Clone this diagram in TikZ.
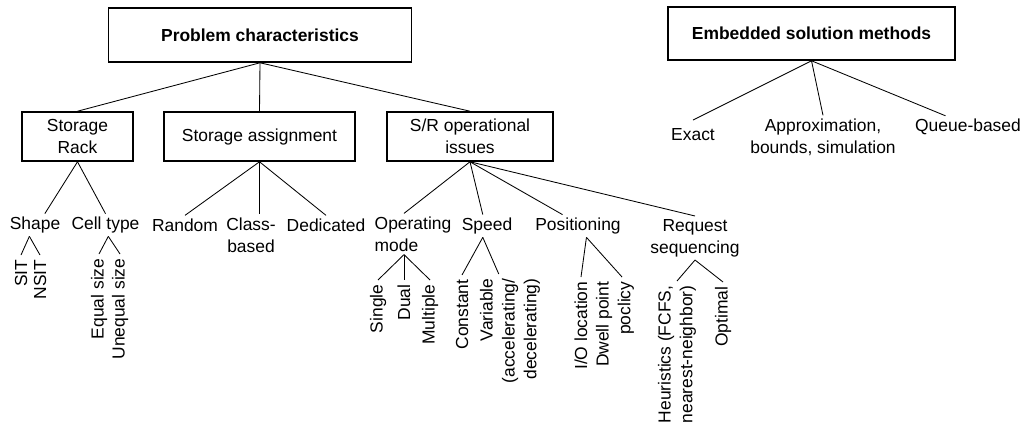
\documentclass[tikz,border=0pt]{standalone}
\usepackage{fontspec}
\setmainfont{Liberation Sans}
\begin{document}
\begin{tikzpicture}[x=0.025cm,y=-0.025cm,line width=0.6pt,
  every node/.style={font=\fontsize{12.4}{15.6}\selectfont},
  box/.style={draw,line width=1.1pt,align=center,inner sep=0pt},
  lbl/.style={align=center,inner sep=2pt},
  leaf/.style={rotate=90,anchor=east,align=right,inner sep=3pt}]
\useasboundingbox (0,0) rectangle (1029,433);
% top boxes
\node [box,minimum width=7.575cm,minimum height=1.35cm] (prob) at (260,35) {\bfseries Problem characteristics};
\node [box,minimum width=7.175cm,minimum height=1.325cm] (emb) at (811.5,33.5) {\bfseries Embedded solution methods};
\node [box,minimum width=2.775cm,minimum height=1.225cm] (rack) at (77.5,136.5) {Storage\\Rack};
\node [box,minimum width=4.775cm,minimum height=1.225cm] (assign) at (259.5,136.5) {Storage assignment};
\node [box,minimum width=4.15cm,minimum height=1.225cm] (sr) at (470,136.5) {S/R operational\\issues};
% second level
\node [lbl] (shape) at (35,225) {Shape};
\node [lbl] (cell) at (105.5,225) {Cell type};
\node [lbl] (random) at (185,225) {Random};
\node [lbl] (classb) at (251,235) {Class-\\based};
\node [lbl] (dedic) at (326,225) {Dedicated};
\node [lbl,align=left] (opmode) at (413,234) {Operating\\mode};
\node [lbl] (speed) at (487,226) {Speed};
\node [lbl] (posit) at (578,226) {Positioning};
\node [lbl] (reqseq) at (695,238) {Request\\sequencing};
\node [lbl] (exact) at (693,135) {Exact};
\node [lbl] (approx) at (823,137) {Approximation,\\bounds, simulation};
\node [lbl] (queue) at (968,127) {Queue-based};
% leaves
\node [leaf] (sit) at (21,255) {SIT};
\node [leaf] (nsit) at (40,255) {NSIT};
\node [leaf] (equal) at (99,254) {Equal size};
\node [leaf] (unequal) at (120,254) {Unequal size};
\node [leaf] (single) at (378,280) {Single};
\node [leaf] (dual) at (404,280) {Dual};
\node [leaf] (multi) at (430,280) {Multiple};
\node [leaf] (const) at (462,275) {Constant};
\node [leaf] (var) at (510,274) {Variable\\(accelerating/\\decelerating)};
\node [leaf] (ioloc) at (581,277) {I/O location};
\node [leaf] (dwell) at (615,277) {Dwell point\\poclicy};
\node [leaf] (heur) at (677,281) {Heuristics (FCFS,\\nearest-neighbor)};
\node [leaf] (optimal) at (723,282) {Optimal};
% connectors
\draw (prob.south) -- (rack.north);
\draw (prob.south) -- (assign.north);
\draw (prob.south) -- (sr.north);
\draw (emb.south) -- ([yshift=4pt]exact.north);
\draw (emb.south) -- (approx.north);
\draw (emb.south) -- ([xshift=-16pt]queue.north);
\draw (rack.south) -- ([xshift=7pt]shape.north);
\draw (rack.south) -- (cell.north);
\draw (assign.south) -- (random.north);
\draw (assign.south) -- (assign.south |- classb.north);
\draw (assign.south) -- (dedic.north);
\draw (sr.south) -- (opmode.north -| dual);
\draw (sr.south) -- ([xshift=-3pt]speed.north);
\draw (sr.south) -- ([xshift=-11pt]posit.north);
\draw (sr.south) -- (reqseq.north);
\draw ([xshift=-4pt]shape.south) -- (sit.east);
\draw ([xshift=-4pt]shape.south) -- (nsit.east);
\draw ([xshift=2pt]cell.south) -- (equal.east);
\draw ([xshift=2pt]cell.south) -- (unequal.east);
\draw (opmode.south -| dual) -- (single.east);
\draw (opmode.south -| dual) -- (dual.east);
\draw (opmode.south -| dual) -- (multi.east);
\draw ([xshift=-3pt]speed.south) -- (const.east);
\draw ([xshift=-3pt]speed.south) -- ([xshift=-8pt]var.east);
\draw ([xshift=6pt]posit.south) -- (ioloc.east);
\draw ([xshift=6pt]posit.south) -- ([xshift=5pt]dwell.east);
\draw (reqseq.south) -- (heur.east);
\draw (reqseq.south) -- (optimal.east);
\end{tikzpicture}
\end{document}
